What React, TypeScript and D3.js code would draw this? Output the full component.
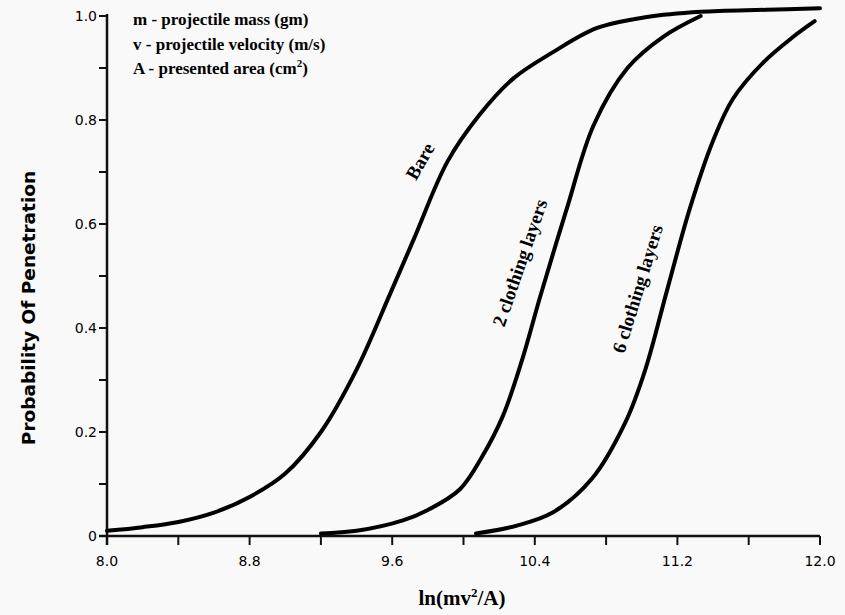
import React from "react";
import * as d3 from "d3";

const width = 845;
const height = 615;

// curve readings: x = ln(mv^2/A), y = probability of penetration
const bareX = [8.0, 8.2, 8.4, 8.6, 8.8, 9.0, 9.2, 9.4, 9.59, 9.72, 9.91, 10.09, 10.28, 10.5, 10.75, 11.03, 11.33, 11.7, 12.0];
const bareY = [0.01, 0.017, 0.027, 0.045, 0.075, 0.12, 0.2, 0.32, 0.467, 0.57, 0.72, 0.81, 0.88, 0.93, 0.977, 0.998, 1.008, 1.012, 1.015];

const twoX = [9.2, 9.4, 9.66, 9.8, 9.98, 10.1, 10.22, 10.33, 10.43, 10.58, 10.73, 10.92, 11.12, 11.33];
const twoY = [0.005, 0.01, 0.03, 0.05, 0.09, 0.15, 0.23, 0.34, 0.46, 0.63, 0.79, 0.9, 0.96, 1.0];

const sixX = [10.07, 10.3, 10.5, 10.72, 10.91, 11.02, 11.14, 11.27, 11.4, 11.51, 11.68, 11.85, 11.97];
const sixY = [0.005, 0.02, 0.045, 0.11, 0.22, 0.32, 0.47, 0.63, 0.76, 0.84, 0.91, 0.96, 0.99];

const xTickLabels = ["8.0", "8.8", "9.6", "10.4", "11.2", "12.0"];
const yTickLabels = ["0", "0.2", "0.4", "0.6", "0.8", "1.0"];

const legendLines = [
  { sym: "m", text: "projectile mass (gm)", sup: "" },
  { sym: "v", text: "projectile velocity (m/s)", sup: "" },
  { sym: "A", text: "presented area (cm", sup: "2" },
];

// curve labels placed along their curve (x, y in data units, rotation)
const curveLabels = [
  { text: "Bare", x: 9.76, y: 0.72, angle: -60 },
  { text: "2 clothing layers", x: 10.32, y: 0.525, angle: -71 },
  { text: "6 clothing layers", x: 10.98, y: 0.475, angle: -73 },
];

export default function App() {
  const x = d3.scaleLinear().domain([8, 12]).range([107, 820]);
  const y = d3.scaleLinear().domain([0, 1]).range([536, 16]);

  const line = d3
    .line<[number, number]>()
    .curve(d3.curveCatmullRom.alpha(0.5))
    .x((d) => x(d[0]))
    .y((d) => y(d[1]));

  const series = [
    d3.zip(bareX, bareY) as [number, number][],
    d3.zip(twoX, twoY) as [number, number][],
    d3.zip(sixX, sixY) as [number, number][],
  ];

  const xTicks = d3.range(0, 11).map((i) => 8 + i * 0.4);
  const yTicks = d3.range(0, 11).map((i) => i * 0.1);
  const tickFont = "'DejaVu Sans', sans-serif";
  const serif = "'Liberation Serif', 'Times New Roman', serif";
  const x0 = x(8);
  const y0 = y(0);

  return (
    <svg
      width={width}
      height={height}
      style={{ position: "absolute", left: 0, top: 0, background: "#f9f9f9" }}
    >
      {/* axes */}
      <line x1={x0} x2={x0} y1={y(1) - 2} y2={y0 + 9} stroke="#111" strokeWidth={2.5} />
      <line x1={x0 - 8} x2={x(12)} y1={y0} y2={y0} stroke="#111" strokeWidth={2.5} />
      {yTicks.map((t, i) => (
        <line
          key={"yt" + i}
          x1={x0 - 8}
          x2={x0}
          y1={y(t)}
          y2={y(t)}
          stroke="#111"
          strokeWidth={2}
        />
      ))}
      {xTicks.map((t, i) => (
        <line
          key={"xt" + i}
          x1={x(t)}
          x2={x(t)}
          y1={y0}
          y2={y0 + 9}
          stroke="#111"
          strokeWidth={2}
        />
      ))}
      {yTickLabels.map((l, i) => (
        <text
          key={"yl" + i}
          x={x0 - 10}
          y={y(i * 0.2) + 5}
          textAnchor="end"
          fontFamily={tickFont}
          fontSize={14}
        >
          {l}
        </text>
      ))}
      {xTickLabels.map((l, i) => (
        <text
          key={"xl" + i}
          x={x(8 + i * 0.8)}
          y={y0 + 30}
          textAnchor="middle"
          fontFamily={tickFont}
          fontSize={14}
        >
          {l}
        </text>
      ))}

      {/* curves */}
      {series.map((s, i) => (
        <path
          key={"c" + i}
          d={line(s) || ""}
          fill="none"
          stroke="#000"
          strokeWidth={4}
          strokeLinecap="round"
        />
      ))}

      {/* curve labels */}
      {curveLabels.map((c, i) => (
        <text
          key={"cl" + i}
          transform={`translate(${x(c.x)},${y(c.y)}) rotate(${c.angle})`}
          textAnchor="middle"
          dy="0.3em"
          fontFamily={serif}
          fontWeight="bold"
          fontSize={19}
        >
          {c.text}
        </text>
      ))}

      {/* legend text */}
      {legendLines.map((l, i) => (
        <text
          key={"lg" + i}
          x={133}
          y={25 + i * 24.5}
          fontFamily={serif}
          fontWeight="bold"
          fontSize={17}
        >
          {l.sym} - {l.text}
          {l.sup && (
            <tspan dy={-7} fontSize={11}>
              {l.sup}
            </tspan>
          )}
          {l.sup && <tspan dy={7}>)</tspan>}
        </text>
      ))}

      {/* axis titles */}
      <text
        transform={`translate(35,308) rotate(-90)`}
        textAnchor="middle"
        fontFamily="'DejaVu Sans', sans-serif"
        fontWeight="bold"
        fontSize={18.5}
      >
        Probability Of Penetration
      </text>
      <text
        x={462}
        y={605}
        textAnchor="middle"
        fontFamily={serif}
        fontWeight="bold"
        fontSize={21}
      >
        ln(mv
        <tspan dy={-8} fontSize={13}>
          2
        </tspan>
        <tspan dy={8}>/A)</tspan>
      </text>
    </svg>
  );
}
